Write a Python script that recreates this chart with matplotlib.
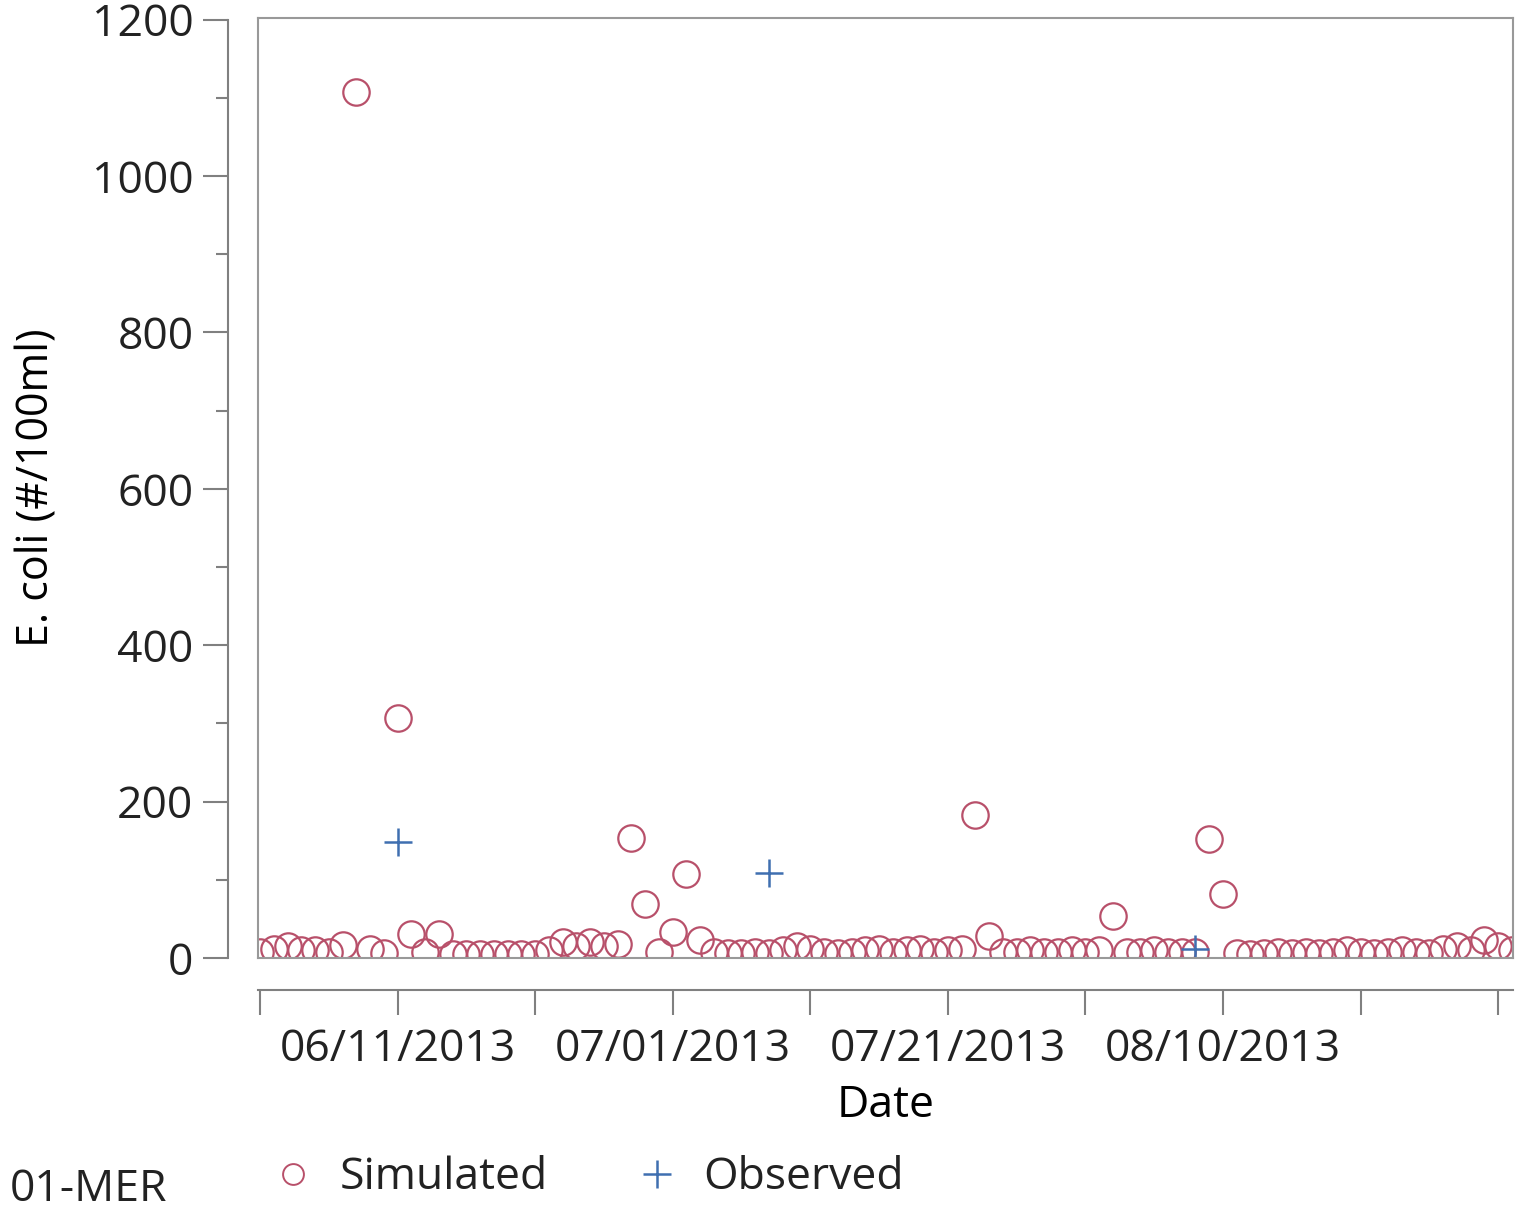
import matplotlib
matplotlib.use('Agg')
import matplotlib.pyplot as plt
import matplotlib.dates as mdates
from matplotlib.lines import Line2D
import pandas as pd

# Simulated E. coli (#/100ml), one value per day from 06/01/2013
sim_start = '2013-06-01'
simulated = [8, 12, 15, 10, 10, 8, 17, 1108, 12, 6,
             307, 31, 8, 31, 5, 5, 5, 5, 5, 5,
             5, 10, 20, 15, 20, 15, 18, 153, 69, 8,
             33, 107, 23, 8, 6, 6, 8, 6, 10, 15,
             12, 8, 6, 8, 10, 12, 8, 10, 12, 8,
             10, 12, 183, 28, 8, 8, 10, 8, 8, 10,
             8, 10, 54, 8, 8, 10, 8, 8, 8, 152,
             82, 6, 5, 6, 8, 6, 8, 6, 8, 10,
             8, 6, 8, 10, 8, 6, 12, 15, 10, 23,
             15, 10]

# Observed samples
obs_dates = ['2013-06-11', '2013-07-08', '2013-08-08']
observed = [148, 109, 12]

major_dates = ['2013-06-11', '2013-07-01', '2013-07-21', '2013-08-10']
minor_dates = ['2013-06-01', '2013-06-21', '2013-07-11', '2013-07-31',
               '2013-08-20', '2013-08-30']

sim_x = pd.date_range(sim_start, periods=len(simulated), freq='D')
obs_x = pd.to_datetime(obs_dates)

plt.rcParams['font.family'] = ['Open Sans', 'DejaVu Sans']
plt.rcParams['font.size'] = 32
plt.rcParams['text.color'] = '#222222'
plt.rcParams['xtick.color'] = '#808080'
plt.rcParams['ytick.color'] = '#808080'
plt.rcParams['xtick.labelcolor'] = '#222222'
plt.rcParams['ytick.labelcolor'] = '#222222'

fig = plt.figure(figsize=(15.21, 12.10), dpi=100)
pos = [258 / 1521, 1 - 958 / 1210, (1513 - 258) / 1521, (958 - 18) / 1210]

x0 = pd.Timestamp('2013-06-01') - pd.Timedelta(hours=3.5)
x1 = pd.Timestamp('2013-08-31') + pd.Timedelta(hours=2)
ylim = (0, 1202)

# plot frame with the data
ax = fig.add_axes(pos)
ax.set_xlim(x0, x1)
ax.set_ylim(*ylim)
ax.set_xticks([])
ax.set_yticks([])
for s in ax.spines.values():
    s.set_color('#999999')
    s.set_linewidth(1.5)

sim_color = '#b8506a'
obs_color = '#3f6fb0'
ax.plot(sim_x, simulated, 'o', ms=19, mfc='none', mec=sim_color, mew=1.6)
ax.plot(obs_x, observed, '+', ms=20, mec=obs_color, mew=1.8)

# separate axes for the offset tick lines
ax2 = fig.add_axes(pos, facecolor='none')
ax2.set_xlim(x0, x1)
ax2.set_ylim(*ylim)
ax2.spines['top'].set_visible(False)
ax2.spines['right'].set_visible(False)
ax2.spines['left'].set_position(('outward', 21.5))
ax2.spines['bottom'].set_position(('outward', 23))
for s in ['left', 'bottom']:
    ax2.spines[s].set_color('#808080')
    ax2.spines[s].set_linewidth(1.5)
ax2.spines['left'].set_bounds(0, 1200)

ax2.set_yticks(range(0, 1201, 200))
ax2.set_yticks(range(100, 1200, 200), minor=True)
ax2.tick_params(axis='y', which='major', length=18, width=1.5, pad=7)
ax2.tick_params(axis='y', which='minor', length=9, width=1.5)

ax2.set_xticks(pd.to_datetime(major_dates))
ax2.set_xticks(pd.to_datetime(minor_dates), minor=True)
ax2.xaxis.set_major_formatter(mdates.DateFormatter('%m/%d/%Y'))
ax2.tick_params(axis='x', which='both', length=18, width=1.5, pad=9)

ax2.set_xlabel('Date', labelpad=8)
ax2.set_ylabel('E. coli (#/100ml)', fontsize=31)
ax2.yaxis.set_label_coords(-0.158, 0.5)

# legend row at the bottom
fig.text(10 / 1521, 1 - 1190 / 1210, '01-MER', va='center', ha='left')
handles = [Line2D([], [], ls='none', marker='o', ms=15, mfc='none', mec=sim_color, mew=1.4),
           Line2D([], [], ls='none', marker='+', ms=20, mec=obs_color, mew=1.8)]
fig.legend(handles=handles, labels=['Simulated', 'Observed'], ncol=2,
           loc='center left', bbox_to_anchor=(253 / 1521, 1 - 1178 / 1210),
           frameon=False, handlelength=1.0,
           handletextpad=0.55, columnspacing=1.95, borderaxespad=0)

plt.savefig('out.png', dpi=100)
